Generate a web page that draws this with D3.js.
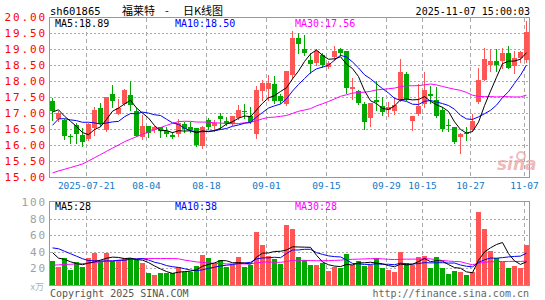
<!DOCTYPE html>
<html>
<head>
<meta charset="utf-8">
<script src="https://cdn.jsdelivr.net/npm/d3@7"></script>
<style>
body { margin: 0; background: #fff; }
</style>
</head>
<body>
<div id="chart"></div>
<script>
// trading days shown (2025)
var dates = ["07-11",
  "07-14","07-15","07-16","07-17","07-18","07-21","07-22","07-23","07-24","07-25",
  "07-28","07-29","07-30","07-31","08-01","08-04","08-05","08-06","08-07","08-08",
  "08-11","08-12","08-13","08-14","08-15","08-18","08-19","08-20","08-21","08-22",
  "08-25","08-26","08-27","08-28","08-29","09-01","09-02","09-03","09-04","09-05",
  "09-08","09-09","09-10","09-11","09-12","09-15","09-16","09-17","09-18","09-19",
  "09-22","09-23","09-24","09-25","09-26","09-29","09-30","10-09","10-10",
  "10-13","10-14","10-15","10-16","10-17","10-20","10-21","10-22","10-23","10-24",
  "10-27","10-28","10-29","10-30","10-31","11-03","11-04","11-05","11-06","11-07"];

var open = [17.36,
  16.80,16.79,16.27,16.62,16.32,16.19,16.53,17.15,16.46,17.60,
  16.98,17.29,17.57,17.05,16.25,16.58,16.47,16.55,16.45,16.30,
  16.34,16.65,16.55,16.52,15.98,16.78,16.60,16.92,16.75,16.67,
  16.85,17.07,16.92,16.33,17.68,17.75,17.92,17.52,17.27,18.20,
  19.34,19.00,18.67,18.56,18.82,18.45,18.75,19.00,18.93,17.76,
  17.68,17.29,16.84,17.42,17.23,17.10,17.05,17.42,18.23,
  16.74,16.98,17.28,17.58,17.40,17.10,16.62,16.55,16.25,16.36,
  16.48,17.33,18.04,18.51,18.62,18.61,18.87,18.46,18.72,18.67];
var high = [17.47,
  17.05,16.80,16.35,16.70,16.52,16.70,17.20,17.30,17.50,17.88,
  17.44,17.75,18.00,17.15,16.95,16.60,16.58,16.57,16.55,16.40,
  16.80,16.72,16.72,16.53,16.60,16.85,16.78,17.00,16.88,16.92,
  17.25,17.27,17.20,17.85,18.04,18.20,18.15,17.60,18.32,19.55,
  19.50,19.45,18.87,19.00,18.88,18.62,19.10,19.02,18.95,18.10,
  17.72,17.33,17.32,17.99,17.50,17.35,17.50,18.69,18.27,
  16.90,17.90,18.27,17.85,17.80,17.20,16.80,16.56,16.36,16.55,
  16.98,18.40,19.03,19.00,19.00,19.02,19.08,18.95,18.95,19.86];
var low = [16.79,
  16.75,16.20,16.07,16.05,15.98,16.15,16.32,16.60,16.43,17.20,
  16.98,17.25,17.10,16.28,16.20,16.25,16.40,16.25,16.28,16.22,
  16.28,16.40,16.42,15.98,15.92,16.50,16.45,16.50,16.62,16.62,
  16.80,16.85,16.70,16.22,17.42,17.40,17.30,17.30,17.25,18.10,
  18.87,18.82,18.25,18.50,18.45,18.40,18.65,18.82,17.63,17.45,
  17.28,16.50,16.60,17.10,16.95,16.90,16.98,17.38,17.40,
  16.48,16.95,17.20,17.30,16.88,16.45,16.45,16.05,15.75,16.15,
  16.45,17.30,18.02,18.30,18.30,18.42,18.40,18.25,18.60,18.60];
var close = [17.05,
  17.00,16.27,16.24,16.35,16.08,16.67,17.08,16.66,17.49,17.38,
  17.16,17.72,17.24,16.29,16.58,16.38,16.55,16.43,16.33,16.24,
  16.68,16.50,16.47,16.01,16.55,16.55,16.68,16.82,16.68,16.90,
  17.10,17.03,16.72,17.72,17.95,17.95,17.37,17.37,18.30,19.34,
  19.17,18.87,18.54,18.93,18.50,18.56,18.93,18.87,17.78,17.80,
  17.31,16.72,17.30,17.34,17.02,17.18,17.26,18.27,17.44,
  16.90,17.23,17.72,17.54,16.90,16.50,16.58,16.10,16.35,16.33,
  16.74,18.04,18.69,18.61,18.50,18.87,18.42,18.72,18.90,19.52];
// volume, 万手
var volume = [29,
  22,32,18,28,22,32,39,29,39,29,
  30,32,32,30,26,15,12,14,14,15,
  22,16,16,23,36,33,25,30,22,24,
  34,22,24,64,48,35,31,25,72,67,
  34,30,24,24,27,17,22,21,37,24,
  29,23,24,32,20,18,16,40,27,
  24,34,35,20,34,21,13,17,16,12,
  16,88,67,41,32,28,21,23,20,48];

// the 29 sessions before the window, for the moving averages
var prevClose = [15.2,14.7,14.6,14.7,14.4,13.8,14.1,13.7,14.4,14.4,
  14.2,14.7,14.8,14.0,14.2,14.3,14.5,14.4,14.3,14.3,
  15.0,16.2,16.6,16.6,16.6,16.65,17.27,17.04,17.14];
var prevVolume = [12,14,15,13,11,14,16,12,13,15,
  14,12,13,15,14,13,12,14,15,13,
  32,62,48,58,52,55,40,32,39];

var tickDates = ["07-21","08-04","08-18","09-01","09-15","09-29","10-15","10-27","11-07"];
var tickLabels = ["2025-07-21","08-04","08-18","09-01","09-15","09-29","10-15","10-27","11-07"];
var priceTicks = [15, 15.5, 16, 16.5, 17, 17.5, 18, 18.5, 19, 19.5, 20];
var volTicks = [20, 40, 60, 80, 100];

var RED = "#ff5555", GREEN = "#00a800";

function movingAvg(prev, vals, n) {
    var all = prev.concat(vals);
    return vals.map(function (v, i) {
        var k = i + prev.length;
        return d3.mean(all.slice(k - n + 1, k + 1));
    });
}

var svg = d3.select("#chart").append("svg")
    .attr("width", 545).attr("height", 300)
    .style("font-family", "'DejaVu Sans Mono', monospace");

var x = d3.scaleBand().domain(dates).range([49, 529])
    .paddingInner(1 / 6).paddingOuter(1 / 12);
var y = d3.scaleLinear().domain([15, 20]).range([177, 17]);
var yv = d3.scaleLinear().domain([0, 100]).range([285, 202]);

function left(d) { return Math.round(x(d)); }
function mid(d) { return Math.round(x(d)) + 2.5; }
function colorOf(i) { return close[i] >= open[i] ? RED : GREEN; }

// grid lines
function hgrid(scale, vals) {
    svg.append("g").selectAll("line").data(vals).join("line")
        .attr("x1", 50).attr("x2", 529)
        .attr("y1", d => Math.round(scale(d)) + 0.5)
        .attr("y2", d => Math.round(scale(d)) + 0.5)
        .attr("stroke", "#aaa").attr("stroke-dasharray", "2,2")
        .attr("shape-rendering", "crispEdges");
}
hgrid(y, priceTicks.slice(1, -1));
hgrid(yv, volTicks.slice(0, -1));

function vgrid(top, bottom) {
    svg.append("g").selectAll("line").data(tickDates).join("line")
        .attr("x1", d => left(d) + 0.5).attr("x2", d => left(d) + 0.5)
        .attr("y1", top).attr("y2", bottom)
        .attr("stroke", "#aaa").attr("stroke-dasharray", "4,3")
        .attr("shape-rendering", "crispEdges");
}
vgrid(18, 177);
vgrid(202, 285);

// candles
var candles = svg.append("g").attr("shape-rendering", "crispEdges");
dates.forEach(function (d, i) {
    var c = colorOf(i);
    candles.append("line")
        .attr("x1", mid(d)).attr("x2", mid(d))
        .attr("y1", Math.round(y(high[i]))).attr("y2", Math.round(y(low[i])) + 1)
        .attr("stroke", c);
    var top = Math.round(y(Math.max(open[i], close[i])));
    var bot = Math.round(y(Math.min(open[i], close[i])));
    candles.append("rect")
        .attr("x", left(d)).attr("y", top)
        .attr("width", 5).attr("height", Math.max(1, bot - top))
        .attr("fill", c);
});

// volume bars
svg.append("g").attr("shape-rendering", "crispEdges")
    .selectAll("rect").data(dates).join("rect")
    .attr("x", d => left(d))
    .attr("y", (d, i) => Math.round(yv(volume[i])))
    .attr("width", 5)
    .attr("height", (d, i) => 285 - Math.round(yv(volume[i])))
    .attr("fill", (d, i) => colorOf(i));

// moving averages
var ma5 = movingAvg(prevClose, close, 5),
    ma10 = movingAvg(prevClose, close, 10),
    ma30 = movingAvg(prevClose, close, 30);
var vma5 = movingAvg(prevVolume, volume, 5),
    vma10 = movingAvg(prevVolume, volume, 10),
    vma30 = movingAvg(prevVolume, volume, 30);

function drawLine(vals, scale, color) {
    var line = d3.line()
        .x((v, i) => mid(dates[i]))
        .y(v => scale(v));
    svg.append("path").datum(vals)
        .attr("d", line)
        .attr("fill", "none").attr("stroke", color).attr("stroke-width", 1);
}
drawLine(ma30, y, "#ff00ff");
drawLine(ma10, y, "#0000ff");
drawLine(ma5, y, "#000");
drawLine(vma30, yv, "#ff00ff");
drawLine(vma10, yv, "#0000ff");
drawLine(vma5, yv, "#000");

// frames
svg.append("rect").attr("x", 49.5).attr("y", 17.5).attr("width", 480).attr("height", 160)
    .attr("fill", "none").attr("stroke", "#999").attr("shape-rendering", "crispEdges");
svg.append("rect").attr("x", 49.5).attr("y", 201.5).attr("width", 480).attr("height", 84)
    .attr("fill", "none").attr("stroke", "#999").attr("shape-rendering", "crispEdges");

// sina watermark
svg.append("text").attr("x", 497).attr("y", 170)
    .attr("font-family", "'DejaVu Sans', sans-serif").attr("font-size", 17)
    .attr("font-weight", "bold").attr("font-style", "italic")
    .attr("fill", "#e9a3a3").attr("opacity", 0.75).text("sina");
svg.append("circle").attr("cx", 521).attr("cy", 156).attr("r", 4)
    .attr("fill", "none").attr("stroke", "#e9a3a3").attr("stroke-width", 2).attr("opacity", 0.7);

// axis labels
svg.append("g").selectAll("text").data(priceTicks).join("text")
    .attr("x", 47).attr("y", d => y(d) + 4)
    .attr("text-anchor", "end").attr("font-size", 11).attr("letter-spacing", 1.9)
    .attr("fill", "#ff0000").text(d => d.toFixed(2));
svg.append("g").selectAll("text").data(volTicks).join("text")
    .attr("x", 47).attr("y", d => yv(d) + 4)
    .attr("text-anchor", "end").attr("font-size", 11).attr("letter-spacing", 1.9)
    .attr("fill", "#a0a0a0").text(d => d);
svg.append("text").attr("x", 44).attr("y", 290).attr("text-anchor", "end")
    .attr("font-family", "'Noto Sans CJK SC', sans-serif").attr("font-size", 9)
    .attr("fill", "#b0b0b0").text("x万");

svg.append("g").selectAll("text").data(tickDates).join("text")
    .attr("x", d => left(d) + 0.5).attr("y", 189)
    .attr("text-anchor", "middle").attr("font-size", 9.5)
    .attr("fill", "#1478c8").text((d, i) => tickLabels[i]);

// header
svg.append("text").attr("x", 50).attr("y", 15).attr("font-size", 10.5)
    .attr("fill", "#000").text("sh601865");
var cjk = "'Noto Sans CJK SC', sans-serif";
svg.append("text").attr("x", 122).attr("y", 15).attr("font-family", cjk)
    .attr("font-size", 11).attr("fill", "#000").text("福莱特");
svg.append("text").attr("x", 167).attr("y", 15).attr("font-family", cjk)
    .attr("font-size", 11).attr("text-anchor", "middle").attr("fill", "#000").text("-");
svg.append("text").attr("x", 183).attr("y", 15).attr("font-family", cjk)
    .attr("font-size", 11).attr("fill", "#000").text("日K线图");
svg.append("text").attr("x", 530).attr("y", 15).attr("text-anchor", "end")
    .attr("font-size", 10).attr("fill", "#000").text("2025-11-07 15:00:03");

// MA legends
var last = dates.length - 1;
function legend(yPos, items) {
    items.forEach(function (it) {
        svg.append("text").attr("x", it[0]).attr("y", yPos)
            .attr("font-size", 10).attr("fill", it[1]).text(it[2]);
    });
}
legend(26.5, [
    [55, "#000", "MA5:" + ma5[last].toFixed(2)],
    [175, "#0000ff", "MA10:" + ma10[last].toFixed(2)],
    [295, "#ff00ff", "MA30:" + ma30[last].toFixed(2)]
]);
function vfmt(v) { return Math.floor(v + 1e-9); }
legend(210, [
    [55, "#000", "MA5:" + vfmt(vma5[last])],
    [175, "#0000ff", "MA10:" + vfmt(vma10[last])],
    [295, "#ff00ff", "MA30:" + vfmt(vma30[last])]
]);

// footer
svg.append("text").attr("x", 50).attr("y", 297).attr("font-size", 10)
    .attr("fill", "#555").text("Copyright 2025 SINA.COM");
svg.append("text").attr("x", 529).attr("y", 297).attr("text-anchor", "end")
    .attr("font-size", 10).attr("fill", "#666").text("http://finance.sina.com.cn");
</script>
</body>
</html>
